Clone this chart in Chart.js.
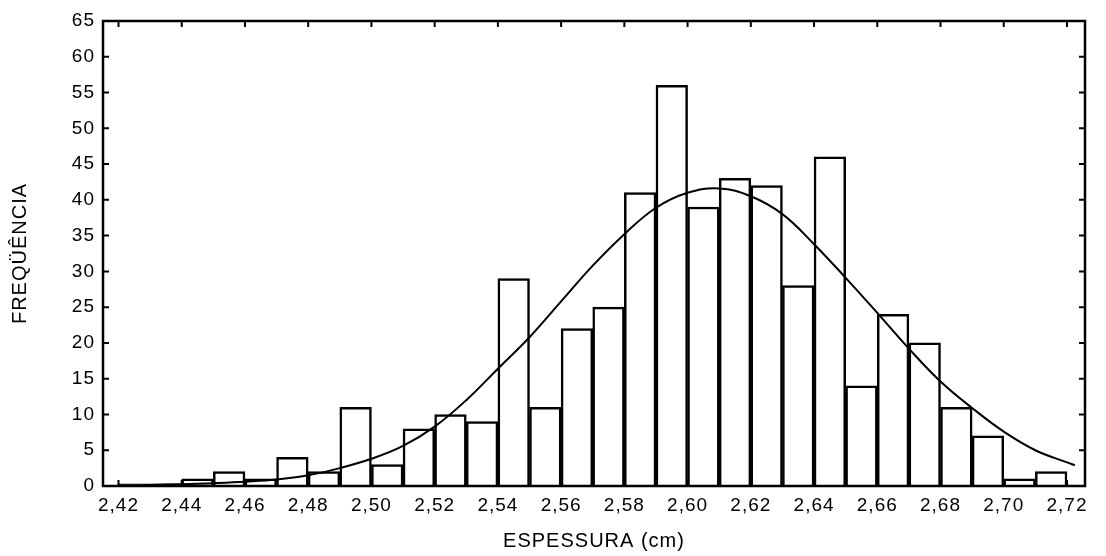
<!DOCTYPE html>
<html>
<head>
<meta charset="utf-8">
<script src="https://cdn.jsdelivr.net/npm/chart.js@4"></script>
<style>
  html, body { margin: 0; padding: 0; background: #fff; }
  #chart { display: block; }
</style>
</head>
<body>
<canvas id="chart" width="1106" height="556"></canvas>
<script>
// histogram bins (lower edge, width 0.01) and counts
const binStart = [2.42, 2.43, 2.44, 2.45, 2.46, 2.47, 2.48, 2.49, 2.50, 2.51,
                  2.52, 2.53, 2.54, 2.55, 2.56, 2.57, 2.58, 2.59, 2.60, 2.61,
                  2.62, 2.63, 2.64, 2.65, 2.66, 2.67, 2.68, 2.69, 2.70, 2.71];
const freq = [0.3, 0.3, 1, 2, 1, 4, 2, 11, 3, 8,
              10, 9, 29, 11, 22, 25, 41, 56, 39, 43,
              42, 28, 46, 14, 24, 20, 11, 7, 1, 2];
const binWidth = 0.01;

// fitted normal curve
const curveX = [2.42, 2.43, 2.44, 2.45, 2.46, 2.47, 2.48, 2.49, 2.50, 2.51,
                2.52, 2.53, 2.54, 2.55, 2.56, 2.57, 2.58, 2.59, 2.60, 2.61,
                2.62, 2.63, 2.64, 2.65, 2.66, 2.67, 2.68, 2.69, 2.70, 2.71,
                2.72, 2.7225];
const curveY = [0.1, 0.15, 0.25, 0.4, 0.6, 0.9, 1.5, 2.5, 3.8, 5.6,
                8.3, 12, 16.4, 20.8, 25.8, 30.8, 35.2, 38.9, 41, 41.6,
                40.5, 38, 33.8, 29.1, 24.2, 19.2, 14.6, 10.9, 7.6, 5.0,
                3.3, 2.9];

const xTicks = [2.42, 2.44, 2.46, 2.48, 2.50, 2.52, 2.54, 2.56, 2.58, 2.60, 2.62, 2.64, 2.66, 2.68, 2.70, 2.72];
const xTickLabels = ["2,42", "2,44", "2,46", "2,48", "2,50", "2,52", "2,54", "2,56",
                     "2,58", "2,60", "2,62", "2,64", "2,66", "2,68", "2,70", "2,72"];

const font = '"Liberation Sans", Arial, Helvetica, sans-serif';

// box frame with inward tick marks on all four sides
const framePlugin = {
  id: "frame",
  beforeDraw(chart) {
    chart.ctx.letterSpacing = "1px";
  },
  afterDatasetsDraw(chart) {
    const { ctx, chartArea: a, scales } = chart;
    const len = 6;
    ctx.save();
    ctx.strokeStyle = "#000";
    ctx.lineWidth = 2;
    ctx.beginPath();
    scales.x.ticks.forEach((t) => {
      const px = scales.x.getPixelForValue(t.value);
      ctx.moveTo(px, a.bottom); ctx.lineTo(px, a.bottom - len);
      ctx.moveTo(px, a.top); ctx.lineTo(px, a.top + len);
    });
    scales.y.ticks.forEach((t) => {
      const py = scales.y.getPixelForValue(t.value);
      ctx.moveTo(a.left, py); ctx.lineTo(a.left + len, py);
      ctx.moveTo(a.right, py); ctx.lineTo(a.right - len, py);
    });
    ctx.stroke();
    ctx.lineWidth = 2.5;
    ctx.strokeRect(a.left, a.top, a.right - a.left, a.bottom - a.top);
    ctx.restore();
  },
};

new Chart(document.getElementById("chart"), {
  data: {
    datasets: [
      {
        type: "line",
        label: "normal",
        data: curveX.map((x, i) => ({ x: x, y: curveY[i] })),
        borderColor: "#000",
        borderWidth: 2,
        pointRadius: 0,
        tension: 0.4,
        fill: false,
        order: 0,
      },
      {
        type: "bar",
        label: "freq",
        data: binStart.map((b, i) => ({ x: b + binWidth / 2, y: freq[i] })),
        backgroundColor: "#fff",
        borderColor: "#000",
        borderWidth: 2.5,
        barPercentage: 1,
        categoryPercentage: 1,
        order: 1,
      },
    ],
  },
  options: {
    responsive: false,
    animation: false,
    layout: { padding: { left: 0, right: 21, top: 21, bottom: 0 } },
    plugins: { legend: { display: false }, tooltip: { enabled: false } },
    scales: {
      x: {
        type: "linear",
        min: 2.4151,
        max: 2.7257,
        offset: false,
        grid: { display: false, drawTicks: false },
        border: { display: false },
        afterBuildTicks: (scale) => {
          scale.ticks = xTicks.map((v) => ({ value: v }));
        },
        afterFit: (scale) => { scale.height = 70; },
        ticks: {
          autoSkip: false,
          maxRotation: 0,
          padding: 8,
          color: "#000",
          font: { family: font, size: 19 },
          callback: (value, i) => xTickLabels[i],
        },
        title: {
          display: true,
          text: "ESPESSURA (cm)",
          color: "#000",
          font: { family: font, size: 20 },
          padding: { top: 0, bottom: 3 },
        },
      },
      y: {
        min: 0,
        max: 65,
        grid: { display: false, drawTicks: false },
        border: { display: false },
        afterFit: (scale) => { scale.width = 103; },
        ticks: {
          stepSize: 5,
          padding: 8,
          color: "#000",
          font: { family: font, size: 19 },
        },
        title: {
          display: true,
          text: "FREQÜÊNCIA",
          color: "#000",
          font: { family: font, size: 20 },
          padding: { top: 8, bottom: 0 },
        },
      },
    },
  },
  plugins: [framePlugin],
});
</script>
</body>
</html>
